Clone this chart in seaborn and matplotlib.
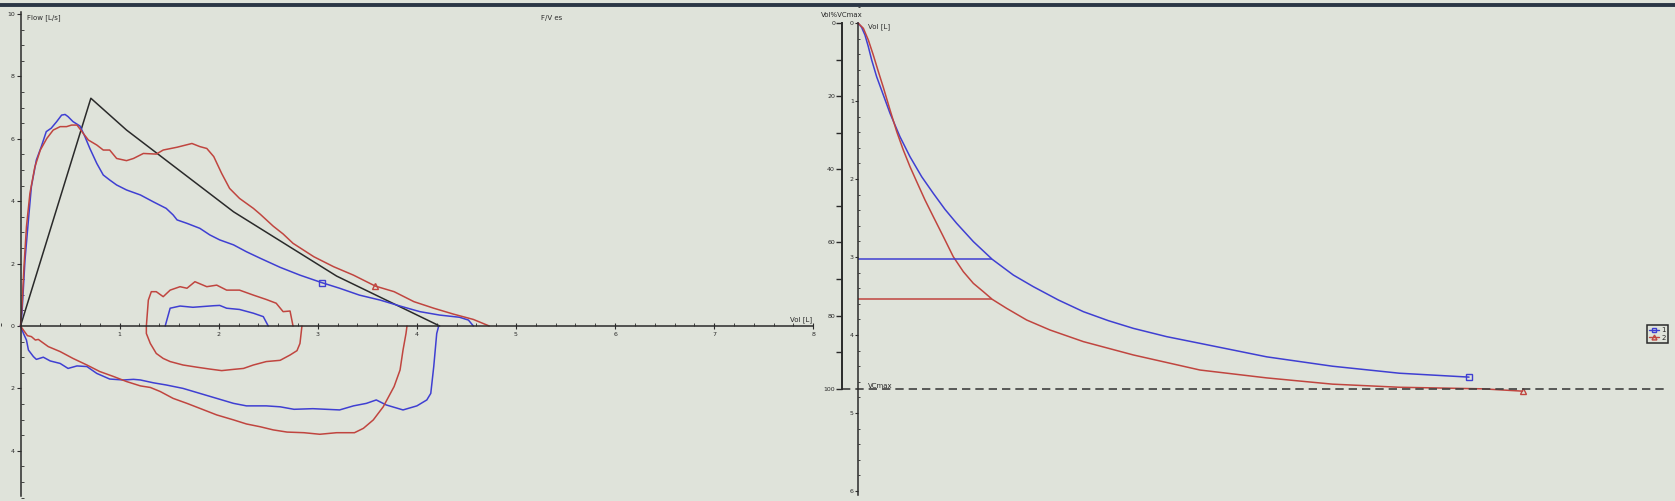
import numpy as np
import pandas as pd
import seaborn as sns
import matplotlib.pyplot as plt
from matplotlib.ticker import MultipleLocator, FixedLocator, FuncFormatter
from matplotlib.lines import Line2D

# --- flow / volume loops (left panel) ---
blue_exp_v = [0, 0.015, 0.045, 0.08, 0.11, 0.16, 0.21, 0.26, 0.31, 0.365, 0.415, 0.45, 0.48, 0.53,
              0.60, 0.65, 0.70, 0.77, 0.835, 0.90, 0.97, 1.07, 1.21, 1.34, 1.47, 1.54, 1.58, 1.68,
              1.81, 1.91, 2.01, 2.15, 2.28, 2.42, 2.62, 2.82, 3.04, 3.22, 3.42, 3.63, 3.83, 4.03,
              4.23, 4.43, 4.52, 4.57]
blue_exp_f = [0, 0.41, 2.1, 3.4, 4.47, 5.32, 5.75, 6.23, 6.34, 6.55, 6.76, 6.78, 6.71, 6.55,
              6.41, 6.07, 5.69, 5.21, 4.84, 4.68, 4.52, 4.36, 4.2, 3.98, 3.77, 3.56, 3.40, 3.29,
              3.13, 2.92, 2.76, 2.6, 2.38, 2.17, 1.88, 1.63, 1.39, 1.21, 0.99, 0.83, 0.64, 0.46,
              0.35, 0.28, 0.19, 0.0]

red_exp_v = [0, 0.015, 0.035, 0.06, 0.095, 0.145, 0.20, 0.265, 0.33, 0.40, 0.465, 0.515, 0.57,
             0.62, 0.685, 0.77, 0.835, 0.90, 0.97, 1.07, 1.14, 1.24, 1.37, 1.44, 1.58, 1.73, 1.81,
             1.88, 1.95, 2.03, 2.11, 2.21, 2.35, 2.42, 2.55, 2.65, 2.75, 2.96, 3.16, 3.36, 3.58,
             3.77, 3.97, 4.17, 4.37, 4.57, 4.73]
red_exp_f = [0, 0.62, 1.9, 3.18, 4.25, 5.1, 5.64, 6.01, 6.28, 6.39, 6.39, 6.44, 6.44,
             6.23, 5.96, 5.8, 5.64, 5.64, 5.37, 5.3, 5.37, 5.53, 5.51, 5.64, 5.73, 5.85, 5.75,
             5.69, 5.43, 4.89, 4.41, 4.09, 3.77, 3.58, 3.2, 2.95, 2.65, 2.22, 1.9, 1.63, 1.28,
             1.10, 0.78, 0.57, 0.38, 0.21, 0.0]

pred_v = [0, 0.71, 1.07, 2.15, 3.19, 4.23]
pred_f = [0, 7.30, 6.28, 3.66, 1.6, 0]

blue_tidal_v = [1.46, 1.51, 1.61, 1.74, 1.95, 2.01, 2.08, 2.21, 2.35, 2.45, 2.50]
blue_tidal_f = [0, 0.57, 0.64, 0.6, 0.65, 0.66, 0.57, 0.53, 0.41, 0.30, 0]

red_tidal_v = [2.84, 2.82, 2.79, 2.72, 2.62, 2.48, 2.35, 2.25, 2.15, 2.03, 1.91, 1.78, 1.64, 1.51,
               1.44, 1.37, 1.31, 1.27, 1.27, 1.29, 1.32, 1.37, 1.44, 1.51, 1.61, 1.68, 1.76, 1.88,
               1.98, 2.08, 2.21, 2.35, 2.48, 2.58, 2.65, 2.72, 2.75]
red_tidal_f = [0, -0.56, -0.79, -0.93, -1.1, -1.14, -1.25, -1.36, -1.39, -1.43, -1.38, -1.32, -1.25, -1.14,
               -1.04, -0.88, -0.56, -0.24, 0, 0.83, 1.1, 1.1, 0.94, 1.15, 1.26, 1.21, 1.42, 1.26,
               1.31, 1.15, 1.15, 0.99, 0.85, 0.73, 0.46, 0.48, 0]

blue_insp_v = [0, 0.03, 0.06, 0.08, 0.13, 0.16, 0.23, 0.30, 0.40, 0.48, 0.57, 0.67, 0.77, 0.90, 1.04,
               1.14, 1.21, 1.34, 1.47, 1.64, 1.81, 1.98, 2.15, 2.28, 2.48, 2.62, 2.76, 2.95, 3.22,
               3.36, 3.49, 3.59, 3.69, 3.86, 4.0, 4.10, 4.14, 4.17, 4.20, 4.22]
blue_insp_f = [0, -0.24, -0.45, -0.77, -0.98, -1.07, -1.0, -1.12, -1.2, -1.36, -1.28, -1.30, -1.52, -1.70, -1.73,
               -1.71, -1.73, -1.82, -1.89, -2.0, -2.16, -2.32, -2.48, -2.56, -2.56, -2.59, -2.67, -2.65, -2.69,
               -2.56, -2.48, -2.37, -2.53, -2.69, -2.56, -2.37, -2.16, -1.3, -0.24, 0]

red_insp_v = [0, 0.045, 0.07, 0.11, 0.15, 0.18, 0.21, 0.28, 0.40, 0.53, 0.67, 0.80, 0.94, 1.07, 1.21,
              1.31, 1.41, 1.54, 1.68, 1.81, 1.98, 2.15, 2.28, 2.42, 2.55, 2.69, 2.86, 3.02, 3.19,
              3.37, 3.46, 3.56, 3.66, 3.77, 3.83, 3.86, 3.89, 3.90]
red_insp_f = [0, -0.2, -0.31, -0.34, -0.45, -0.43, -0.5, -0.66, -0.82, -1.04, -1.25, -1.46, -1.62, -1.78, -1.92,
              -1.97, -2.1, -2.32, -2.48, -2.64, -2.85, -3.01, -3.14, -3.23, -3.33, -3.4, -3.42, -3.47, -3.42,
              -3.42, -3.28, -3.01, -2.59, -1.94, -1.41, -0.77, -0.24, 0]

fv_marker_v = [3.04, 3.58]
fv_marker_f = [1.39, 1.28]

# --- volume / time (right panel) ---
blue_t = [0, 0.027, 0.052, 0.077, 0.102, 0.139, 0.189, 0.239, 0.313, 0.388, 0.475, 0.562, 0.649,
          0.736, 0.861, 1.002, 1.159, 1.308, 1.495, 1.682, 1.868, 2.055, 2.303, 2.552, 3.05, 3.54,
          4.04, 4.56]
blue_vol = [0, 0.056, 0.154, 0.303, 0.474, 0.688, 0.923, 1.158, 1.457, 1.714, 1.970, 2.184, 2.389,
            2.568, 2.803, 3.030, 3.231, 3.380, 3.551, 3.701, 3.816, 3.915, 4.021, 4.107, 4.28, 4.40,
            4.49, 4.54]
red_t = [0, 0.040, 0.077, 0.114, 0.152, 0.189, 0.239, 0.289, 0.338, 0.388, 0.438, 0.5, 0.562,
         0.637, 0.711, 0.786, 0.861, 0.935, 1.002, 1.109, 1.259, 1.433, 1.682, 2.055, 2.552, 3.05,
         3.54, 4.04, 4.66, 4.96]
red_vol = [0, 0.068, 0.218, 0.41, 0.624, 0.825, 1.115, 1.393, 1.628, 1.842, 2.034, 2.269, 2.483,
           2.739, 2.996, 3.188, 3.338, 3.444, 3.543, 3.658, 3.808, 3.936, 4.085, 4.256, 4.449, 4.55,
           4.63, 4.67, 4.69, 4.72]
fev1 = [3.03, 3.54]
vcmax = 4.69
trial_labels = ['1', '2']

blue = '#3f3fd2'
red = '#c0453f'
dark = '#2a2a2a'
bg = '#dfe3da'

sns.set_theme(style='ticks')
plt.rcParams['font.family'] = ['DejaVu Sans']

W, H = 1675, 501
fig = plt.figure(figsize=(W / 100, H / 100), dpi=100, facecolor=bg)

# ---------------- left: flow-volume ----------------
ax = fig.add_axes([0, 0, 830 / W, 1])
ax.set_facecolor(bg)
ax.set_xlim(-20.5 / 99.1, (830 - 20.5) / 99.1)
ax.set_ylim(-(H - 326) / 31.2, 326 / 31.2)

lw = 1.1
for xs, ys, c in [(pred_v, pred_f, dark),
                  (blue_exp_v, blue_exp_f, blue), (red_exp_v, red_exp_f, red),
                  (blue_insp_v, blue_insp_f, blue), (red_insp_v, red_insp_f, red),
                  (blue_tidal_v, blue_tidal_f, blue), (red_tidal_v, red_tidal_f, red)]:
    sns.lineplot(x=xs, y=ys, sort=False, estimator=None, color=c, linewidth=lw, ax=ax)

ax.plot(fv_marker_v[0], fv_marker_f[0], marker='s', ms=4, mfc='none', mec=blue, mew=1)
ax.plot(fv_marker_v[1], fv_marker_f[1], marker='^', ms=4, mfc='none', mec=red, mew=1)

for s in ['top', 'right']:
    ax.spines[s].set_visible(False)
ax.spines['left'].set_position(('data', 0))
ax.spines['bottom'].set_position(('data', 0))
ax.spines['left'].set_bounds(-5.45, 10.05)
ax.spines['bottom'].set_bounds(0, 8)
for s in ['left', 'bottom']:
    ax.spines[s].set_color(dark)
    ax.spines[s].set_linewidth(1.1)

ax.yaxis.set_major_locator(FixedLocator([-4, -2, 0, 2, 4, 6, 8, 10]))
ax.yaxis.set_minor_locator(MultipleLocator(0.5))
ax.yaxis.set_major_formatter(FuncFormatter(lambda v, _: f"{abs(v):g}"))
ax.xaxis.set_major_locator(FixedLocator([1, 2, 3, 4, 5, 6, 7, 8]))
ax.xaxis.set_minor_locator(MultipleLocator(0.2))
ax.tick_params(axis='y', which='major', direction='out', length=3, width=0.8, labelsize=4.5, pad=1,
               color=dark, labelcolor=dark, left=True)
ax.tick_params(axis='y', which='minor', direction='in', length=2, width=0.6, color=dark, left=True)
ax.tick_params(axis='x', which='major', direction='inout', length=4, width=0.8, labelsize=4.5, pad=2,
               color=dark, labelcolor=dark, bottom=True)
ax.tick_params(axis='x', which='minor', direction='in', length=2.5, width=0.6, color=dark, bottom=True)

ax.text(0.07, 9.87, 'Flow [L/s]', fontsize=5, color=dark, va='center', ha='left')
ax.text(5.25, 9.87, 'F/V es', fontsize=5, color=dark, va='center', ha='left')
ax.text(7.99, 0.22, 'Vol [L]', fontsize=5, color=dark, va='center', ha='right')

# ---------------- right: volume-time ----------------
ax2 = fig.add_axes([830 / W, 0, 845 / W, 1])
ax2.set_facecolor('none')
ax2.set_xlim((830 - 858) / 134, (W - 858) / 134)
ax2.set_ylim((H - 23) / 78, -23 / 78)
pct_x = (842 - 858) / 134

sns.lineplot(x=blue_t, y=blue_vol, sort=False, estimator=None, color=blue, linewidth=lw, ax=ax2)
sns.lineplot(x=red_t, y=red_vol, sort=False, estimator=None, color=red, linewidth=lw, ax=ax2)
ax2.plot(blue_t[-1], blue_vol[-1], marker='s', ms=4, mfc='none', mec=blue, mew=1)
ax2.plot(red_t[-1], red_vol[-1], marker='^', ms=4, mfc='none', mec=red, mew=1)
ax2.hlines(fev1[0], 0, 1.0, color=blue, lw=lw)
ax2.hlines(fev1[1], 0, 1.0, color=red, lw=lw)
ax2.hlines(vcmax, pct_x, 6.02, color='#404040', lw=1.2, linestyles=(0, (5, 3)))
ax2.text(0.075, vcmax - 0.01, 'VCmax', fontsize=5, color=dark, va='baseline', ha='left')
ax2.text(0.075, 0.05, 'Vol [L]', fontsize=5, color=dark, va='center', ha='left')
ax2.text(pct_x, -0.106, 'Vol%VCmax', fontsize=5, color=dark, va='center', ha='center')

for s in ['top', 'right', 'bottom']:
    ax2.spines[s].set_visible(False)
ax2.spines['left'].set_position(('data', 0))
ax2.spines['left'].set_bounds(0, 6.05)
ax2.spines['left'].set_color(dark)
ax2.spines['left'].set_linewidth(1.1)
ax2.set_xticks([])
ax2.yaxis.set_major_locator(FixedLocator([0, 1, 2, 3, 4, 5, 6]))
ax2.yaxis.set_minor_locator(MultipleLocator(0.2))
ax2.tick_params(axis='y', which='major', direction='out', length=2, width=0.8, labelsize=4.5, pad=1,
                color=dark, labelcolor=dark, left=True)
ax2.tick_params(axis='y', which='minor', direction='in', length=1.5, width=0.6, color=dark, left=True)

# percent axis
ax3 = ax2.twinx()
ax3.set_ylim(ax2.get_ylim()[0] / vcmax * 100, ax2.get_ylim()[1] / vcmax * 100)
for s in ['top', 'right', 'bottom']:
    ax3.spines[s].set_visible(False)
ax3.spines['left'].set_visible(True)
ax3.spines['left'].set_position(('data', pct_x))
ax3.spines['left'].set_bounds(0, 100)
ax3.spines['left'].set_color(dark)
ax3.spines['left'].set_linewidth(1.4)
ax3.yaxis.set_ticks_position('left')
ax3.yaxis.set_label_position('left')
ax3.yaxis.set_major_locator(FixedLocator([0, 20, 40, 60, 80, 100]))
ax3.yaxis.set_minor_locator(FixedLocator([10, 30, 50, 70, 90]))
ax3.tick_params(axis='y', which='both', direction='out', length=4, width=1, labelsize=4.5, pad=1,
                color=dark, labelcolor=dark, left=True, right=False)

handles = [Line2D([], [], color=blue, lw=1, marker='s', ms=3.5, mfc='none', mec=blue),
           Line2D([], [], color=red, lw=1, marker='^', ms=3.5, mfc='none', mec=red)]
leg = ax2.legend(handles, trial_labels, loc='center right', bbox_to_anchor=(1 - 7 / 845, (H - 334) / H),
                 fontsize=5, frameon=True, fancybox=False, framealpha=1, facecolor=bg,
                 edgecolor=dark, handlelength=1.4, borderpad=0.3, labelspacing=0.2,
                 handletextpad=0.4, borderaxespad=0)
leg.get_frame().set_linewidth(1.1)

# dark band along the top
fig.add_artist(Line2D([0, 1], [1 - 5 / H, 1 - 5 / H], transform=fig.transFigure, color='#2b3645', lw=2.8))

fig.savefig('out.png', dpi=100, facecolor=bg)
